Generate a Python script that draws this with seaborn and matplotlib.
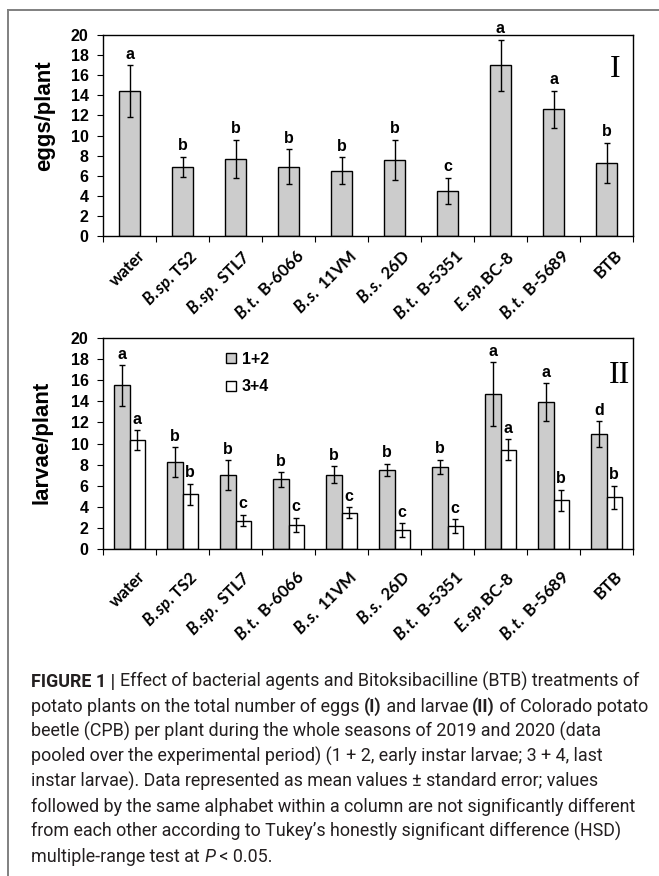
import numpy as np
import pandas as pd
import matplotlib
matplotlib.use("Agg")
import matplotlib.pyplot as plt
import seaborn as sns
from matplotlib.lines import Line2D
from matplotlib.patches import Patch
from matplotlib.transforms import ScaledTranslation

# ---------------- data ----------------
treatments = ["water", "B.sp.TS2", "B.sp. STL7", "B.t. B-6066", "B.s. 11VM",
              "B.s. 26D", "B.t. B-5351", "E.sp.BC-8", "B.t. B-5689", "BTB"]
tick_labels = ["water", r"$\mathit{B.sp.}$TS2", r"$\mathit{B.sp.}$ STL7",
               r"$\mathit{B.t.}$ B-6066", r"$\mathit{B.s.}$ 11VM", r"$\mathit{B.s.}$ 26D",
               r"$\mathit{B.t.}$ B-5351", r"$\mathit{E.sp.}$BC-8", r"$\mathit{B.t.}$ B-5689", "BTB"]

eggs_mean = [14.4, 6.9, 7.7, 6.9, 6.5, 7.6, 4.5, 17.0, 12.6, 7.3]
eggs_se = [2.6, 1.0, 1.9, 1.75, 1.35, 2.0, 1.3, 2.55, 1.85, 2.0]
eggs_letters = ["a", "b", "b", "b", "b", "b", "c", "a", "a", "b"]

stages = ["1+2", "3+4"]
early_mean = [15.5, 8.25, 7.0, 6.6, 7.05, 7.5, 7.8, 14.7, 13.9, 10.9]
early_se = [1.9, 1.4, 1.4, 0.7, 0.8, 0.6, 0.65, 3.0, 1.8, 1.2]
early_letters = ["a", "b", "b", "b", "b", "b", "b", "a", "a", "d"]
late_mean = [10.3, 5.2, 2.7, 2.3, 3.45, 1.8, 2.15, 9.4, 4.6, 4.9]
late_se = [0.95, 1.0, 0.55, 0.65, 0.5, 0.65, 0.65, 1.0, 1.0, 1.1]
late_letters = ["a", "b", "c", "c", "c", "c", "c", "a", "b", "b"]

yticks = list(range(0, 21, 2))

caption_lines = [
    [("FIGURE 1 | ", "bold"), ("Effect of bacterial agents and Bitoksibacilline (BTB) treatments of", "normal")],
    [("potato plants on the total number of eggs ", "normal"), ("(I)", "bold"),
     (" and larvae ", "normal"), ("(II)", "bold"), (" of Colorado potato", "normal")],
    [("beetle (CPB) per plant during the whole seasons of 2019 and 2020 (data", "normal")],
    [("pooled over the experimental period) (1 + 2, early instar larvae; 3 + 4, last", "normal")],
    [("instar larvae). Data represented as mean values \u00b1 standard error; values", "normal")],
    [("followed by the same alphabet within a column are not significantly different", "normal")],
    [("from each other according to Tukey\u2019s honestly significant difference (HSD)", "normal")],
    [("multiple-range test at ", "normal"), ("P", "italic"), (" < 0.05.", "normal")],
]

# ---------------- style ----------------
plt.rcParams["font.family"] = ["Liberation Sans", "DejaVu Sans"]
plt.rcParams["mathtext.fontset"] = "custom"
plt.rcParams["mathtext.it"] = "Lato:italic:bold"
plt.rcParams["mathtext.rm"] = "Lato:bold"
plt.rcParams["mathtext.bf"] = "Lato:bold"
plt.rcParams["axes.linewidth"] = 1.0

W, H = 659, 876
fig = plt.figure(figsize=(W / 100, H / 100), dpi=100)
fig.patch.set_facecolor("white")

ax1 = fig.add_axes([103 / W, 1 - 236 / H, 530 / W, 201 / H])
ax2 = fig.add_axes([103 / W, 1 - 549 / H, 530 / W, 211 / H])

GREY = "#cccccc"

df_eggs = pd.DataFrame({"treatment": treatments, "eggs": eggs_mean})
sns.barplot(data=df_eggs, x="treatment", y="eggs", color=GREY, saturation=1,
            width=0.4, edgecolor="black", linewidth=1.0, errorbar=None, ax=ax1)

df_larv = pd.DataFrame({
    "treatment": treatments * 2,
    "stage": [stages[0]] * len(treatments) + [stages[1]] * len(treatments),
    "value": early_mean + late_mean,
})
sns.barplot(data=df_larv, x="treatment", y="value", hue="stage", hue_order=stages,
            palette=[GREY, "white"], saturation=1, width=0.57, gap=0,
            edgecolor="black", linewidth=1.0, errorbar=None, legend=False, ax=ax2)

letter_kw = dict(ha="center", va="bottom", fontsize=11.5, fontweight="bold",
                 textcoords="offset points", xytext=(0, 2.5))


def add_err(ax, patches, se, letters):
    xs = [p.get_x() + p.get_width() / 2 for p in patches]
    hs = [p.get_height() for p in patches]
    ax.errorbar(xs, hs, yerr=se, fmt="none", ecolor="black", elinewidth=1.0,
                capsize=2.5, capthick=1.0, zorder=5)
    for x, h, s, l in zip(xs, hs, se, letters):
        ax.annotate(l, (x, h + s), **letter_kw)


add_err(ax1, ax1.containers[0], eggs_se, eggs_letters)
add_err(ax2, ax2.containers[0], early_se, early_letters)
add_err(ax2, ax2.containers[1], late_se, late_letters)

for ax, ylab, ylx, ypos, pad_px in [(ax1, "eggs/plant", -0.111, 0.6, 11),
                                     (ax2, "larvae/plant", -0.115, 0.505, 19)]:
    ax.set_ylim(0, 20)
    ax.set_xlim(-0.5, len(treatments) - 0.5)
    ax.set_yticks(yticks)
    ax.set_yticklabels([str(v) for v in yticks], fontsize=11.5, fontweight="bold")
    ax.tick_params(axis="y", length=4.3, width=0.8, pad=6, direction="out")
    ax.set_xticks(np.arange(-0.5, len(treatments), 1), minor=True)
    ax.tick_params(axis="x", which="minor", length=4.5, width=0.8, direction="out")
    ax.tick_params(axis="x", which="major", length=0, pad=pad_px * 0.72)
    ax.set_xticks(range(len(treatments)))
    ax.set_xticklabels(tick_labels, rotation=45, ha="right", va="top",
                       fontsize=12, fontweight="bold", family="Lato")
    for lab in ax.get_xticklabels():
        lab.set_transform(lab.get_transform() + ScaledTranslation(0.19, 0, fig.dpi_scale_trans))
    ax.set_xlabel("")
    ax.set_ylabel(ylab, fontsize=16, fontweight="bold", va="center")
    ax.yaxis.set_label_coords(ylx, ypos)
    for sp in ax.spines.values():
        sp.set_linewidth(1.0)
        sp.set_color("black")

ax1.text(0.966, 0.83, "I", transform=ax1.transAxes, ha="center", va="center",
         fontsize=23, family="Liberation Serif")
ax2.text(0.975, 0.82, "II", transform=ax2.transAxes, ha="center", va="center",
         fontsize=23, family="Liberation Serif")

ax2.legend(handles=[Patch(fc=GREY, ec="black", lw=1.0), Patch(fc="white", ec="black", lw=1.0)],
           labels=stages, loc="upper left", bbox_to_anchor=(0.232, 0.935), frameon=False,
           prop={"family": "Liberation Sans", "weight": "bold", "size": 11.5},
           handlelength=0.65, handleheight=0.65, handletextpad=0.35, labelspacing=0.8,
           borderpad=0, borderaxespad=0)

# ---------------- frame lines ----------------
gray = "#808080"
fig.add_artist(Line2D([8 / W, 1], [1 - 10 / H, 1 - 10 / H], color=gray, lw=1.4))
fig.add_artist(Line2D([8 / W, 8 / W], [0, 1 - 10 / H], color=gray, lw=1.4))

# ---------------- caption ----------------
renderer = fig.canvas.get_renderer()
CAP_FAMILY = "Roboto"
CAP_COLOR = "#231f20"


def text_width(s, size, style):
    kw = dict(fontsize=size, family=CAP_FAMILY)
    if style == "bold":
        kw["fontweight"] = "bold"
    elif style == "italic":
        kw["fontstyle"] = "italic"
    t1 = fig.text(0, 0, "x" + s + "x", **kw)
    t2 = fig.text(0, 0, "xx", **kw)
    w = t1.get_window_extent(renderer).width - t2.get_window_extent(renderer).width
    t1.remove()
    t2.remove()
    return w


target = 611.0
w10 = sum(text_width(s, 10, st) for s, st in caption_lines[0])
cap_size = 10 * target / w10

x0 = 31
for i, line in enumerate(caption_lines):
    y = 687 + 25 * i
    x = x0
    for s, st in line:
        kw = dict(fontsize=cap_size, family=CAP_FAMILY, color=CAP_COLOR, va="baseline", ha="left")
        if st == "bold":
            kw["fontweight"] = "bold"
        elif st == "italic":
            kw["fontstyle"] = "italic"
        fig.text(x / W, 1 - y / H, s, **kw)
        x += text_width(s, cap_size, st)

fig.savefig("out.png", dpi=100)
